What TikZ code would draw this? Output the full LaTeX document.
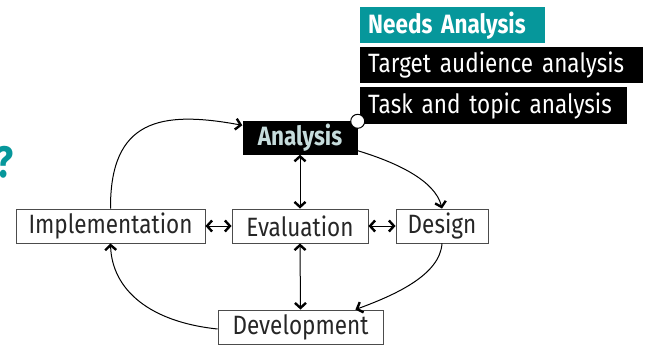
\documentclass[tikz,border=0pt]{standalone}
\usepackage{fontspec}
\setmainfont{Fira Sans}[FakeStretch=0.85]
\usetikzlibrary{arrows.meta}
\definecolor{tealbox}{HTML}{06979B}
\definecolor{anatext}{HTML}{C6DCDC}
\begin{document}
\begin{tikzpicture}[x=1pt,y=-1pt,
  box/.style={draw=black!70, line width=0.9pt, fill=white, inner sep=0pt,
    minimum height=34pt, text=black!85, font=\fontsize{26.5}{30}\selectfont},
  tag/.style={fill=black, text=white, inner xsep=8pt, inner ysep=0pt, align=left,
    anchor=north west, font=\fontsize{26.5}{30}\selectfont},
  tip/.tip={Straight Barb[length=5pt,width=11pt,line width=2.4pt]},
  arr/.style={line width=1pt, -tip},
  darr/.style={line width=1pt, tip-tip}]
\useasboundingbox (0,0) rectangle (646,345);

\node[font=\bfseries\fontsize{44}{44}\selectfont, text=tealbox, anchor=base east, inner sep=0pt] (qm) at (14,177) {?};

\node[tag, fill=tealbox, text width=169pt, minimum height=36pt, font=\bfseries\fontsize{26.5}{30}\selectfont] (needs) at (360,7) {\mbox{Needs Analysis}};
\node[tag, text width=267pt, minimum height=36pt] (taa) at (360,47) {\mbox{Target audience analysis}};
\node[tag, text width=251pt, minimum height=37pt] (tta) at (360,87) {\mbox{Task and topic analysis}};

\node[fill=black, text=anatext, inner sep=0pt, minimum width=115pt, minimum height=33pt,
  font=\bfseries\fontsize{26.5}{30}\selectfont] (ana) at (300,138) {Analysis};
\node[circle, draw=black, fill=white, line width=1pt, minimum size=14pt, inner sep=0pt] (dot) at (ana.north east) {};

\node[box, minimum width=189pt] (impl) at (110.5,226) {Implementation};
\node[box, minimum width=136pt] (eval) at (300,226) {Evaluation};
\node[box, minimum width=92pt] (des) at (442,226) {Design};
\node[box, minimum width=165pt] (dev) at (300.5,327) {Development};

\draw[arr] (impl.north) .. controls (110,120) and (160,110) .. ([yshift=-4pt]ana.north west);
\draw[arr] ([yshift=4pt]ana.south east) .. controls (395,162) and (435,180) .. (des.north);
\draw[arr] (des.south) .. controls (440,275) and (395,295) .. ([xshift=-28pt]dev.north east);
\draw[arr] ([yshift=-2pt]dev.west) .. controls (150,322) and (112,290) .. (impl.south);

\draw[darr] (ana.south) -- (eval.north);
\draw[darr] (eval.south) -- (dev.north);
\draw[darr] (impl.east) -- (eval.west);
\draw[darr] (eval.east) -- (des.west);
\end{tikzpicture}
\end{document}
